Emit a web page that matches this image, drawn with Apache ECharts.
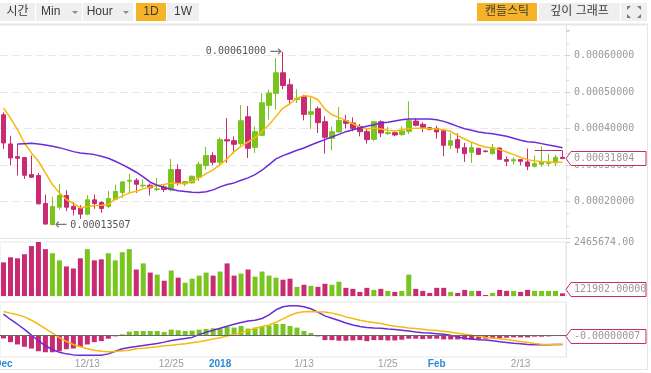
<!DOCTYPE html>
<html><head><meta charset="utf-8">
<script src="https://cdn.jsdelivr.net/npm/echarts@6/dist/echarts.min.js"></script>
<style>html,body{margin:0;padding:0;background:#fff}#c{width:651px;height:373px}</style>
</head><body><div id="c"></div>
<script>
const dates = ['12/01','12/02','12/03','12/04','12/05','12/06','12/07','12/08','12/09','12/10','12/11','12/12','12/13','12/14','12/15','12/16','12/17','12/18','12/19','12/20','12/21','12/22','12/23','12/24','12/25','12/26','12/27','12/28','12/29','12/30','12/31',
'01/01','01/02','01/03','01/04','01/05','01/06','01/07','01/08','01/09','01/10','01/11','01/12','01/13','01/14','01/15','01/16','01/17','01/18','01/19','01/20','01/21','01/22','01/23','01/24','01/25','01/26','01/27','01/28','01/29','01/30','01/31',
'02/01','02/02','02/03','02/04','02/05','02/06','02/07','02/08','02/09','02/10','02/11','02/12','02/13','02/14','02/15','02/16','02/17','02/18','02/19'];
const tickIdx  = [0, 12, 24, 31, 43, 55, 62, 74];
const tickText = ['Dec','12/13','12/25','2018','1/13','1/25','Feb','2/13'];
const priceTicks = ['0.00020000','0.00030000','0.00040000','0.00050000','0.00060000'];

const opens = [0.0004378,0.0003577,0.0003230,0.0003203,0.0002738,0.0002711,0.0001946,0.0001365,0.0001845,0.0002164,
0.0001864,0.0001818,0.0001654,0.0002046,0.0001973,0.0001864,0.0002064,0.0002246,0.0002556,0.0002583,
0.0002428,0.0002447,0.0002328,0.0002401,0.0002319,0.0002875,0.0002483,0.0002510,0.0002665,0.0002984,
0.0003258,0.0003075,0.0003695,0.0003668,0.0003586,0.0004324,0.0003485,0.0003813,0.0004634,0.0004962,
0.0005527,0.0005199,0.0004798,0.0004870,0.0004388,0.0004542,0.0004187,0.0003731,0.0003905,0.0004214,
0.0004151,0.0004060,0.0003914,0.0003704,0.0004187,0.0003859,0.0003886,0.0003832,0.0003923,0.0004205,
0.0004114,0.0004023,0.0004005,0.0003941,0.0003540,0.0003695,0.0003476,0.0003349,0.0003458,0.0003385,
0.0003312,0.0003467,0.0003148,0.0003112,0.0003148,0.0003085,0.0002966,0.0003021,0.0003039,0.0003057,
0.0003210];
const closes = [0.0003604,0.0003194,0.0003185,0.0002720,0.0002665,0.0001936,0.0001381,0.0001864,0.0002164,0.0001845,
0.0001782,0.0001654,0.0002046,0.0001946,0.0001809,0.0002082,0.0002274,0.0002538,0.0002583,0.0002474,
0.0002447,0.0002374,0.0002346,0.0002328,0.0002875,0.0002492,0.0002547,0.0002693,0.0003021,0.0003258,
0.0003075,0.0003695,0.0003659,0.0003567,0.0004214,0.0003458,0.0003914,0.0004706,0.0004971,0.0005527,
0.0005180,0.0004798,0.0004825,0.0004388,0.0004460,0.0004160,0.0003759,0.0003914,0.0004224,0.0004142,
0.0004005,0.0003914,0.0003695,0.0004187,0.0003877,0.0003886,0.0003823,0.0003932,0.0004214,0.0004087,
0.0004032,0.0003978,0.0003905,0.0003540,0.0003668,0.0003467,0.0003312,0.0003476,0.0003294,0.0003367,
0.0003476,0.0003157,0.0003103,0.0003148,0.0003103,0.0002966,0.0003039,0.0003075,0.0003075,0.0003212,
0.00031804];
const lows = [0.0003440,0.0002984,0.0002711,0.0002620,0.0002647,0.0001918,0.0001372,0.00013507,0.0001782,0.0001736,
0.0001617,0.0001526,0.0001627,0.0001800,0.0001690,0.0001827,0.0002037,0.0002100,0.0002210,0.0002237,
0.0002374,0.0002164,0.0002283,0.0002264,0.0002283,0.0002438,0.0002419,0.0002492,0.0002556,0.0002875,
0.0002993,0.0002966,0.0003057,0.0003312,0.0003531,0.0003194,0.0003331,0.0003804,0.0004242,0.0004515,
0.0005080,0.0004697,0.0004697,0.0004224,0.0003987,0.0003877,0.0003312,0.0003403,0.0003896,0.0003996,
0.0003923,0.0003786,0.0003586,0.0003659,0.0003768,0.0003823,0.0003786,0.0003804,0.0003850,0.0004060,
0.0003905,0.0003950,0.0003722,0.0003239,0.0003440,0.0003331,0.0003085,0.0003057,0.0003276,0.0003349,
0.0003285,0.0003148,0.0002966,0.0003012,0.0002993,0.0002857,0.0002930,0.0002948,0.0002957,0.0002966,
0.0003160];
const highs = [0.0004442,0.0003804,0.0003577,0.0003212,0.0003258,0.0002784,0.0002192,0.0002128,0.0002483,0.0002310,
0.0001982,0.0001900,0.0002173,0.0002192,0.0002009,0.0002292,0.0002465,0.0002556,0.0002757,0.0002638,
0.0002611,0.0002492,0.0002647,0.0002465,0.0003167,0.0003021,0.0002556,0.0002711,0.0003094,0.0003495,
0.0003349,0.0003759,0.0004287,0.0003786,0.0004643,0.0004615,0.0004060,0.0004971,0.0005062,0.0005927,
0.00061000,0.0005363,0.0005080,0.0004925,0.0004852,0.0004606,0.0004333,0.0004050,0.0004588,0.0004369,
0.0004306,0.0004123,0.0004014,0.0004205,0.0004224,0.0004041,0.0003923,0.0004060,0.0004743,0.0004287,
0.0004169,0.0004041,0.0004078,0.0003941,0.0003877,0.0003868,0.0003604,0.0003604,0.0003467,0.0003403,
0.0003577,0.0003467,0.0003230,0.0003212,0.0003167,0.0003449,0.0003258,0.0003513,0.0003303,0.0003285,
0.0003394];
const volumes = [1535200,1767800,1721300,1907400,2279500,2465674,2140000,1953900,1628200,1349100,
1256100,1721300,2140000,1628200,1674800,1953900,1628200,2000400,2140000,1209500,
1488700,1070000,976900,697800,1163000,837400,604800,790900,930400,1070000,
930400,1116500,1488700,930400,1023500,1209500,883900,1116500,930400,837400,
744300,790900,418700,511700,465200,418700,558300,511700,651300,372200,
325600,186100,372200,279100,325600,232600,186100,232600,976900,325600,
232600,139600,372200,372200,186100,139600,279100,232600,232600,46500,
139600,279100,232600,232600,186100,279100,232600,232600,232600,232600,
121902];
const maFast = [0.0004561,0.0004287,0.0003968,0.0003604,0.0003331,0.0003103,0.0002784,0.0002465,0.0002237,0.0002055,
0.0001946,0.0001827,0.0001854,0.0001891,0.0001900,0.0001918,0.0002073,0.0002146,0.0002237,0.0002283,
0.0002346,0.0002401,0.0002438,0.0002465,0.0002510,0.0002492,0.0002492,0.0002556,0.0002647,0.0002766,
0.0002866,0.0003012,0.0003167,0.0003367,0.0003513,0.0003631,0.0003750,0.0003923,0.0004105,0.0004333,
0.0004561,0.0004679,0.0004834,0.0004907,0.0004879,0.0004788,0.0004533,0.0004378,0.0004306,0.0004224,
0.0004132,0.0004041,0.0003987,0.0004014,0.0003987,0.0003950,0.0003932,0.0003968,0.0003996,0.0004005,
0.0004005,0.0003996,0.0003987,0.0003968,0.0003923,0.0003804,0.0003713,0.0003622,0.0003549,0.0003495,
0.0003467,0.0003422,0.0003358,0.0003285,0.0003212,0.0003148,0.0003112,0.0003094,0.0003085,0.0003075,
0.0003075];
const maSlow = [null,null,0.0003577,0.0003586,0.0003595,0.0003577,0.0003549,0.0003513,0.0003476,0.0003422,
0.0003367,0.0003331,0.0003312,0.0003285,0.0003239,0.0003185,0.0003103,0.0003012,0.0002911,0.0002802,
0.0002675,0.0002529,0.0002447,0.0002383,0.0002337,0.0002292,0.0002274,0.0002255,0.0002246,0.0002265,
0.0002319,0.0002401,0.0002465,0.0002510,0.0002583,0.0002647,0.0002738,0.0002857,0.0003012,0.0003167,
0.0003258,0.0003331,0.0003403,0.0003467,0.0003549,0.0003622,0.0003695,0.0003768,0.0003841,0.0003914,
0.0003968,0.0004014,0.0004060,0.0004105,0.0004151,0.0004169,0.0004205,0.0004242,0.0004260,0.0004260,
0.0004260,0.0004260,0.0004242,0.0004196,0.0004132,0.0004060,0.0003996,0.0003950,0.0003905,0.0003877,
0.0003859,0.0003823,0.0003786,0.0003731,0.0003677,0.0003640,0.0003622,0.0003586,0.0003549,0.0003513,
0.0003476];
const macdLine = [21.0e-7,15.7e-7,11.0e-7,6.0e-7,0.3e-7,-5.3e-7,-10.3e-7,-14.0e-7,-16.7e-7,-18.3e-7,
-19.3e-7,-19.7e-7,-19.7e-7,-19.7e-7,-19.7e-7,-18.3e-7,-15.7e-7,-13.3e-7,-12.0e-7,-11.0e-7,
-10.0e-7,-9.0e-7,-8.0e-7,-6.7e-7,-5.0e-7,-4.0e-7,-3.0e-7,-2.0e-7,0.7e-7,3.0e-7,
5.0e-7,7.0e-7,9.0e-7,11.0e-7,12.7e-7,14.3e-7,15.0e-7,16.7e-7,20.3e-7,25.3e-7,
28.3e-7,29.3e-7,29.3e-7,28.3e-7,26.3e-7,23.0e-7,19.3e-7,17.0e-7,14.7e-7,12.3e-7,
10.3e-7,8.7e-7,7.7e-7,7.3e-7,7.0e-7,6.3e-7,5.7e-7,5.0e-7,4.3e-7,3.3e-7,
2.7e-7,2.3e-7,1.7e-7,1.0e-7,0.0,-1.3e-7,-3.0e-7,-3.7e-7,-4.3e-7,-4.7e-7,
-5.3e-7,-6.3e-7,-7.0e-7,-7.7e-7,-8.3e-7,-9.0e-7,-9.3e-7,-9.3e-7,-9.3e-7,-9.0e-7,
-9.0e-7];
const signalLine = [23.7e-7,22.0e-7,20.3e-7,18.3e-7,15.0e-7,11.0e-7,6.7e-7,2.3e-7,-2.3e-7,-6.0e-7,
-9.0e-7,-11.3e-7,-13.3e-7,-14.7e-7,-15.7e-7,-16.3e-7,-16.0e-7,-15.3e-7,-14.7e-7,-13.3e-7,
-12.7e-7,-12.0e-7,-11.3e-7,-10.3e-7,-9.7e-7,-9.0e-7,-8.3e-7,-7.3e-7,-6.3e-7,-5.0e-7,
-3.7e-7,-2.3e-7,-0.7e-7,1.0e-7,2.7e-7,4.7e-7,6.7e-7,8.7e-7,10.3e-7,13.0e-7,
16.3e-7,19.7e-7,22.3e-7,23.3e-7,23.7e-7,23.3e-7,23.0e-7,22.0e-7,20.3e-7,18.3e-7,
16.7e-7,15.0e-7,13.7e-7,12.7e-7,11.7e-7,10.3e-7,9.0e-7,8.3e-7,7.3e-7,6.7e-7,
6.0e-7,5.3e-7,4.7e-7,4.0e-7,3.0e-7,2.0e-7,1.0e-7,0.0,-1.0e-7,-2.0e-7,
-2.7e-7,-3.3e-7,-4.0e-7,-5.0e-7,-6.0e-7,-7.0e-7,-8.0e-7,-8.7e-7,-9.0e-7,-9.0e-7,
-9.0e-7];
const histogram = [-3.0e-7,-6.7e-7,-9.0e-7,-11.3e-7,-13.0e-7,-15.7e-7,-16.7e-7,-16.7e-7,-15.7e-7,-13.7e-7,
-13.0e-7,-11.3e-7,-9.0e-7,-6.7e-7,-5.7e-7,-3.3e-7,-1.0e-7,1.0e-7,3.7e-7,4.3e-7,
4.3e-7,4.3e-7,4.3e-7,3.3e-7,5.7e-7,5.0e-7,4.3e-7,4.7e-7,5.7e-7,6.3e-7,
7.0e-7,7.0e-7,8.3e-7,7.7e-7,9.3e-7,6.7e-7,7.7e-7,8.7e-7,9.7e-7,11.3e-7,
11.3e-7,9.3e-7,7.7e-7,4.3e-7,2.3e-7,-1.0e-7,-4.7e-7,-4.7e-7,-5.3e-7,-5.3e-7,
-5.0e-7,-4.7e-7,-5.7e-7,-4.7e-7,-4.7e-7,-5.0e-7,-5.0e-7,-4.3e-7,-3.3e-7,-3.3e-7,
-3.7e-7,-3.3e-7,-3.3e-7,-4.0e-7,-4.0e-7,-4.0e-7,-4.0e-7,-4.3e-7,-4.0e-7,-3.3e-7,
-3.0e-7,-2.7e-7,-2.3e-7,-2.0e-7,-2.0e-7,-2.0e-7,-1.3e-7,-1.3e-7,-1.0e-7,-0.3e-7,
-0.7e-7];

const GREEN = '#79c41f', MAG = '#c92a72', YEL = '#f8b80c', PUR = '#6c2bd9';
const MONO = 'DejaVu Sans Mono';
const RIGHT = 85;
const last = dates.length - 1;
let hiIdx = 0, loIdx = 0;
highs.forEach((v, i) => { if (v > highs[hiIdx]) hiIdx = i; });
lows.forEach((v, i) => { if (v < lows[loIdx]) loIdx = i; });

const annRich = { v: { color: '#555', fontFamily: MONO, fontSize: 10 }, a: { color: '#777', fontFamily: 'DejaVu Sans', fontSize: 15 } };

const xAxisFor = (gi) => ({
  type: 'category', gridIndex: gi, data: dates, boundaryGap: true,
  axisTick: { show: false },
  axisLine: { show: gi === 0, lineStyle: { color: '#e6e6e6' } },
  splitLine: { show: false },
  axisLabel: gi === 2 ? {
    show: true, margin: 2,
    interval: (idx) => tickIdx.indexOf(idx) >= 0,
    formatter: (val, idx) => {
      const k = tickIdx.indexOf(idx);
      if (k < 0) return '';
      const t = tickText[k];
      return t.indexOf('/') >= 0 ? '{n|' + t + '}' : '{m|' + t + '}';
    },
    rich: {
      n: { color: '#9d9d9d', fontFamily: 'Liberation Sans', fontSize: 10 },
      m: { color: '#2b8ad8', fontFamily: 'Liberation Sans', fontSize: 10, fontWeight: 'bold' }
    }
  } : { show: false }
});

const btn = (x, w, label, active) => [
  { type: 'rect', shape: { x: x, y: 3, width: w, height: 18 }, style: { fill: active ? '#f5b325' : '#efefef' }, z: 10 },
  { type: 'text', x: x + w / 2, y: 12, style: { text: label, align: 'center', verticalAlign: 'middle', fill: '#3a3a3a', font: '12px "Liberation Sans", "Noto Sans CJK KR"' }, z: 11 }
];
const graphics = [].concat(
  btn(0, 35, '시간', false),
  btn(36, 46, 'Min     ', false),
  btn(83, 50, 'Hour     ', false),
  btn(136, 30, '1D', true),
  btn(167, 32, '1W', false),
  btn(477, 60, '캔들스틱', true),
  btn(539, 81, '깊이 그래프', false),
  [{ type: 'rect', shape: { x: 621, y: 3, width: 26, height: 18 }, style: { fill: '#efefef' }, z: 10 }],
  [
    { type: 'polygon', shape: { points: [[72, 11], [78, 11], [75, 14]] }, style: { fill: '#8a8a8a' }, z: 12 },
    { type: 'polygon', shape: { points: [[123, 11], [129, 11], [126, 14]] }, style: { fill: '#8a8a8a' }, z: 12 },
    { type: 'polygon', shape: { points: [[627, 6], [631, 6], [627, 10]] }, style: { fill: '#7a7a7a' }, z: 12 },
    { type: 'polygon', shape: { points: [[641, 6], [637, 6], [641, 10]] }, style: { fill: '#7a7a7a' }, z: 12 },
    { type: 'polygon', shape: { points: [[627, 18], [631, 18], [627, 14]] }, style: { fill: '#7a7a7a' }, z: 12 },
    { type: 'polygon', shape: { points: [[641, 18], [637, 18], [641, 14]] }, style: { fill: '#7a7a7a' }, z: 12 },
    { type: 'line', shape: { x1: 0, y1: 24.5, x2: 648, y2: 24.5 }, style: { stroke: '#e6e6e6', lineWidth: 2 }, z: 1 },
    { type: 'line', shape: { x1: 566.5, y1: 24, x2: 566.5, y2: 30 }, style: { stroke: '#e6e6e6', lineWidth: 1 }, z: 1 },
    { type: 'line', shape: { x1: 647.5, y1: 24, x2: 647.5, y2: 370 }, style: { stroke: '#e6e6e6', lineWidth: 1 }, z: 1 },
    { type: 'line', shape: { x1: 0, y1: 369.5, x2: 648, y2: 369.5 }, style: { stroke: '#e6e6e6', lineWidth: 1 }, z: 1 }
  ]
);

const gridBase = { left: 0, right: RIGHT, outerBoundsMode: 'none', containLabel: false };
const option = {
  animation: false,
  backgroundColor: '#fff',
  graphic: graphics,
  grid: [
    Object.assign({}, gridBase, { top: 30, height: 208, show: false }),
    Object.assign({}, gridBase, { top: 242, height: 54, show: true, borderColor: '#e8e8e8', borderWidth: 1 }),
    Object.assign({}, gridBase, { top: 302, height: 55, show: true, borderColor: '#e8e8e8', borderWidth: 1 })
  ],
  xAxis: [xAxisFor(0), xAxisFor(1), xAxisFor(2)],
  yAxis: [
    {
      type: 'value', gridIndex: 0, position: 'right', min: 0.0001, max: 0.00067, interval: 0.0001,
      axisLine: { show: true, lineStyle: { color: '#e6e6e6' } },
      axisTick: { show: true, length: 4, lineStyle: { color: '#d0d0d0' } },
      minorTick: { show: true, splitNumber: 3, length: 3, lineStyle: { color: '#d8d8d8' } },
      axisLabel: {
        margin: 8, color: '#9a9a9a', fontFamily: MONO, fontSize: 10, showMinLabel: false, showMaxLabel: false,
        formatter: (v) => { const s = v.toFixed(8); return priceTicks.indexOf(s) >= 0 ? s : ''; }
      },
      splitLine: { show: true, showMinLine: false, showMaxLine: false, lineStyle: { color: '#e8e8e8', type: [8, 4] } }
    },
    {
      type: 'value', gridIndex: 1, position: 'right', min: 0, max: volumes[5], interval: volumes[5],
      axisLine: { show: true, lineStyle: { color: '#e6e6e6' } },
      axisTick: { show: true, length: 4, lineStyle: { color: '#d0d0d0' } },
      axisLabel: { margin: 8, color: '#9a9a9a', fontFamily: MONO, fontSize: 10, showMinLabel: false, formatter: (v) => v.toFixed(2) },
      splitLine: { show: false }
    },
    {
      type: 'value', gridIndex: 2, position: 'right', min: -2.14e-6, max: 3.3e-6,
      axisLine: { show: true, lineStyle: { color: '#e6e6e6' } },
      axisTick: { show: false }, axisLabel: { show: false }, splitLine: { show: false }
    }
  ],
  series: [
    {
      type: 'candlestick', xAxisIndex: 0, yAxisIndex: 0, barWidth: 5,
      data: dates.map((d, i) => [opens[i], closes[i], lows[i], highs[i]]),
      itemStyle: { color: GREEN, color0: MAG, borderColor: GREEN, borderColor0: MAG, borderWidth: 1 },
      markPoint: {
        symbol: 'circle', symbolSize: 0.1, silent: true, itemStyle: { color: 'rgba(0,0,0,0)' },
        data: [
          { coord: [dates[hiIdx], highs[hiIdx]], label: { show: true, position: 'left', distance: 1, formatter: '{v|' + highs[hiIdx].toFixed(8) + '} {a|→}', rich: annRich } },
          { coord: [dates[loIdx], lows[loIdx]], label: { show: true, position: 'right', distance: 2, formatter: '{a|←} {v|' + lows[loIdx].toFixed(8) + '}', rich: annRich } }
        ]
      },
      markLine: {
        symbol: ['none', 'none'], silent: true,
        data: [
          [
            { coord: [dates[last - 4], highs[last]], lineStyle: { color: MAG, width: 1, type: 'solid' }, label: { show: false } },
            { coord: [dates[last], highs[last]] }
          ]
        ]
      },
      z: 2
    },
    { type: 'line', xAxisIndex: 0, yAxisIndex: 0, data: maFast, symbol: 'none', lineStyle: { color: YEL, width: 1.5 }, z: 3 },
    { type: 'line', xAxisIndex: 0, yAxisIndex: 0, data: maSlow, symbol: 'none', lineStyle: { color: PUR, width: 1.5 }, z: 3 },
    {
      type: 'bar', xAxisIndex: 1, yAxisIndex: 1, barWidth: 5,
      data: volumes.map((v, i) => ({ value: v, itemStyle: { color: closes[i] >= opens[i] ? GREEN : MAG } }))
    },
    {
      type: 'bar', xAxisIndex: 2, yAxisIndex: 2, barWidth: 5,
      data: histogram.map((v) => ({ value: v, itemStyle: { color: v >= 0 ? GREEN : MAG } })),
      markLine: {
        symbol: ['none', 'none'], silent: true,
        data: [{ yAxis: 0, lineStyle: { color: '#666', width: 1, type: 'solid' }, label: { show: false } }]
      }
    },
    { type: 'line', xAxisIndex: 2, yAxisIndex: 2, data: macdLine, symbol: 'none', lineStyle: { color: PUR, width: 1.5 }, z: 3 },
    { type: 'line', xAxisIndex: 2, yAxisIndex: 2, data: signalLine, symbol: 'none', lineStyle: { color: YEL, width: 1.5 }, z: 3 }
  ]
};
const chart = echarts.init(document.getElementById('c'), null, { renderer: 'canvas' });
chart.setOption(option);

// current-value tags on the right axes, positioned through the library's own scales
const tagX = chart.getWidth() - RIGHT;
const volBottom = chart.convertToPixel({ yAxisIndex: 1 }, 0);
const tags = [
  { y: chart.convertToPixel({ yAxisIndex: 0 }, closes[last]), t: closes[last].toFixed(8) },
  { y: Math.min(chart.convertToPixel({ yAxisIndex: 1 }, volumes[last]), volBottom - 7), t: volumes[last].toFixed(5) },
  { y: chart.convertToPixel({ yAxisIndex: 2 }, histogram[last]), t: histogram[last].toFixed(8) }
];
const tagEls = [];
tags.forEach((tg) => {
  const y = Math.round(tg.y) + 0.5;
  tagEls.push({ type: 'polygon', shape: { points: [[tagX, y], [tagX + 5, y - 7], [tagX + 80, y - 7], [tagX + 80, y + 7], [tagX + 5, y + 7]] },
    style: { fill: '#fff', stroke: MAG, lineWidth: 1 }, z: 50 });
  tagEls.push({ type: 'text', x: tagX + 8, y: y, style: { text: tg.t, fill: '#9a9a9a', font: '10px "DejaVu Sans Mono"', verticalAlign: 'middle' }, z: 51 });
});
chart.setOption({ graphic: graphics.concat(tagEls) });
</script>
</body></html>
